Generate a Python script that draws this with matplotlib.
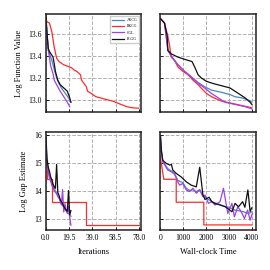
import matplotlib
matplotlib.use('Agg')
import matplotlib.pyplot as plt
import numpy as np

plt.rcParams['font.family'] = ['Liberation Serif', 'DejaVu Serif']

labels = ['AKCG', 'BKCG', 'CGL', 'PCGG']
colors = ['#4a86c0', '#ff2a2a', '#a040e8', '#111111']

# --- log function value vs iterations
fv_it_x = [
  [0, 1, 2, 3, 5, 7, 9, 11, 13, 15, 17, 19, 21],
  [0, 1, 3, 5, 7, 9, 11, 15, 20, 22, 24, 26, 29, 30, 34, 35, 38, 42, 49, 56, 63, 68, 72, 78],
  [0, 1, 2, 3, 4, 6, 7, 10, 12, 15, 18, 20],
  [0, 1, 2, 3, 6, 7, 8, 10, 12, 15, 18, 19, 20, 21],
]
fv_it_y = [
  [13.74, 13.60, 13.46, 13.42, 13.36, 13.28, 13.20, 13.15, 13.11, 13.08, 13.05, 13.02, 12.98],
  [13.74, 13.71, 13.70, 13.62, 13.48, 13.38, 13.35, 13.32, 13.30, 13.29, 13.27, 13.26, 13.23,
   13.18, 13.12, 13.08, 13.06, 13.03, 13.01, 12.99, 12.96, 12.94, 12.93, 12.925],
  [13.74, 13.58, 13.45, 13.39, 13.31, 13.24, 13.18, 13.12, 13.08, 13.03, 12.98, 12.94],
  [13.77, 13.60, 13.47, 13.44, 13.39, 13.33, 13.26, 13.18, 13.14, 13.11, 13.08, 13.05, 13.02, 12.98],
]

# --- log function value vs wall-clock time
fv_t_x = [
  [0, 176, 324, 470, 765, 1059, 1353, 1647, 1941, 2235, 2676, 3044, 3265, 3559, 3853, 4000],
  [0, 176, 324, 397, 470, 618, 765, 985, 1206, 1426, 1647, 1868, 2015, 2235, 2456, 2676, 3118, 3559, 4000],
  [0, 176, 324, 470, 765, 1059, 1353, 1647, 1868, 2235, 2529, 2824, 3265, 3706, 4000],
  [0, 176, 294, 324, 470, 765, 1059, 1382, 1500, 1647, 1794, 2015, 2309, 2676, 3044, 3265, 3485, 3706, 3926, 4000],
]
fv_t_y = [
  [13.74, 13.70, 13.46, 13.40, 13.32, 13.26, 13.21, 13.16, 13.12, 13.09, 13.07, 13.05, 13.03, 13.02, 13.00, 12.98],
  [13.74, 13.70, 13.58, 13.50, 13.39, 13.36, 13.30, 13.26, 13.23, 13.18, 13.14, 13.09, 13.06, 13.03,
   13.01, 12.99, 12.97, 12.95, 12.93],
  [13.74, 13.70, 13.45, 13.40, 13.32, 13.26, 13.21, 13.15, 13.12, 13.06, 13.02, 12.98, 12.96, 12.94, 12.92],
  [13.74, 13.70, 13.58, 13.45, 13.42, 13.39, 13.37, 13.35, 13.30, 13.23, 13.20, 13.17, 13.15, 13.13,
   13.11, 13.08, 13.05, 13.02, 12.98, 12.96],
]

# --- log gap estimate vs iterations
gap_it_x = [
  list(range(22)),
  [0, 1, 5, 34, 78],
  list(range(22)),
  list(range(22)),
]
gap_it_y = [
  [15.8, 15.0, 14.8, 14.55, 14.45, 14.3, 14.2, 14.1, 14.0, 13.95, 13.85, 13.75, 13.65, 13.55, 13.5,
   13.4, 13.35, 13.3, 13.25, 13.2, 13.15, 13.1],
  [15.1, 14.42, 13.6, 12.79, 12.79],
  [15.5, 14.95, 14.7, 14.45, 14.35, 14.2, 14.15, 14.0, 13.95, 13.9, 13.8, 13.75, 13.65, 13.5, 14.05,
   13.25, 13.55, 13.3, 13.2, 13.45, 13.05, 12.78],
  [16.0, 15.1, 14.85, 14.7, 14.5, 14.4, 14.25, 14.15, 14.1, 14.95, 13.95, 13.85, 13.7, 13.62, 13.55,
   13.45, 13.38, 13.32, 13.28, 14.02, 13.15, 13.3],
]

# --- log gap estimate vs wall-clock time
gap_t_x = [
  [0, 40, 100, 320, 470, 620, 760, 980, 1130, 1280, 1420, 1570, 1720, 1860, 2000, 2250, 2500, 2750,
   3000, 3270, 3640, 3860, 4010],
  [0, 145, 690, 690, 1900, 1900, 4000],
  [0, 40, 100, 320, 470, 620, 760, 840, 980, 1130, 1280, 1420, 1570, 1720, 1860, 1950, 2100, 2250,
   2390, 2610, 2760, 2950, 3130, 3240, 3390, 3540, 3680, 3820, 3930, 4030],
  [0, 40, 100, 250, 400, 480, 540, 690, 900, 1130, 1350, 1570, 1720, 1860, 1950, 2130, 2250, 2400,
   2540, 2690, 2830, 2980, 3130, 3270, 3420, 3600, 3700, 3830, 3930, 4000],
]
gap_t_y = [
  [15.94, 15.42, 15.07, 14.8, 14.72, 14.62, 14.38, 14.3, 14.1, 14.02, 14.05, 13.98, 14.05, 13.85,
   13.75, 13.62, 13.55, 13.47, 13.42, 13.32, 13.26, 13.2, 13.26],
  [15.17, 14.42, 14.42, 13.6, 13.6, 12.79, 12.79],
  [15.94, 15.40, 15.05, 14.75, 14.69, 14.60, 14.33, 14.21, 14.27, 14.04, 13.98, 14.10, 13.92, 14.04,
   13.80, 13.86, 13.56, 13.62, 13.50, 13.62, 14.10, 13.20, 13.56, 13.08, 13.44, 13.26, 13.02, 13.32,
   12.96, 13.20],
  [15.94, 15.46, 15.1, 14.99, 14.93, 14.95, 14.75, 14.63, 14.51, 14.33, 14.21, 14.15, 14.85, 13.86,
   13.70, 13.78, 13.62, 13.55, 13.52, 13.48, 13.44, 13.36, 13.26, 13.56, 13.44, 13.62, 13.42, 14.04,
   13.27, 13.40],
]

it_ticks = [0.0, 19.5, 39.0, 58.5, 78.0]
t_ticks = [0, 1000, 2000, 3000, 4000]

fig, axs = plt.subplots(2, 2, figsize=(2.7, 2.7), dpi=100)
fig.subplots_adjust(left=0.170, right=0.948, bottom=0.148, top=0.948, wspace=0.2, hspace=0.205)

data = [[(fv_it_x, fv_it_y), (fv_t_x, fv_t_y)], [(gap_it_x, gap_it_y), (gap_t_x, gap_t_y)]]
for r in range(2):
  for c in range(2):
    ax = axs[r][c]
    xs, ys = data[r][c]
    for i in range(4):
      ds = 'steps-post' if (r == 1 and c == 0 and i == 1) else 'default'
      ax.plot(xs[i], ys[i], color=colors[i], lw=0.9, label=labels[i], drawstyle=ds)
    ax.grid(True, ls='--', color='#b0b0b0', lw=0.7)
    ax.set_axisbelow(True)
    ax.tick_params(direction='in', labelsize=5.5, length=2, width=0.6, pad=3)
    for s in ax.spines.values():
      s.set_linewidth(1.1)
      s.set_color('#222222')
    if c == 0:
      ax.set_xlim(0, 80.2)
      ax.set_xticks(it_ticks)
    else:
      ax.set_xlim(0, 4185)
      ax.set_xticks(t_ticks)
    if r == 0:
      ax.set_ylim(12.891, 13.782)
      ax.set_yticks([13.0, 13.2, 13.4, 13.6])
      ax.set_xticklabels([])
    else:
      ax.set_ylim(12.607, 16.107)
      ax.set_yticks([13, 14, 15, 16])
    if c == 1:
      ax.set_yticklabels([])

axs[0][0].yaxis.set_major_formatter(matplotlib.ticker.FormatStrFormatter('%.1f'))
axs[1][0].set_xticklabels(['0.0', '19.5', '39.0', '58.5', '78.0'])
axs[0][0].set_ylabel('Log Function Value', fontsize=6)
axs[1][0].set_ylabel('Log Gap Estimate', fontsize=6)
axs[1][0].set_xlabel('Iterations', fontsize=6)
axs[1][1].set_xlabel('Wall-clock Time', fontsize=6)
axs[0][0].legend(loc='upper right', fontsize=2.8, handlelength=3, borderpad=0.5,
                 labelspacing=0.6, framealpha=1, edgecolor='#cccccc', fancybox=False)

plt.savefig('out.png', dpi=100)
